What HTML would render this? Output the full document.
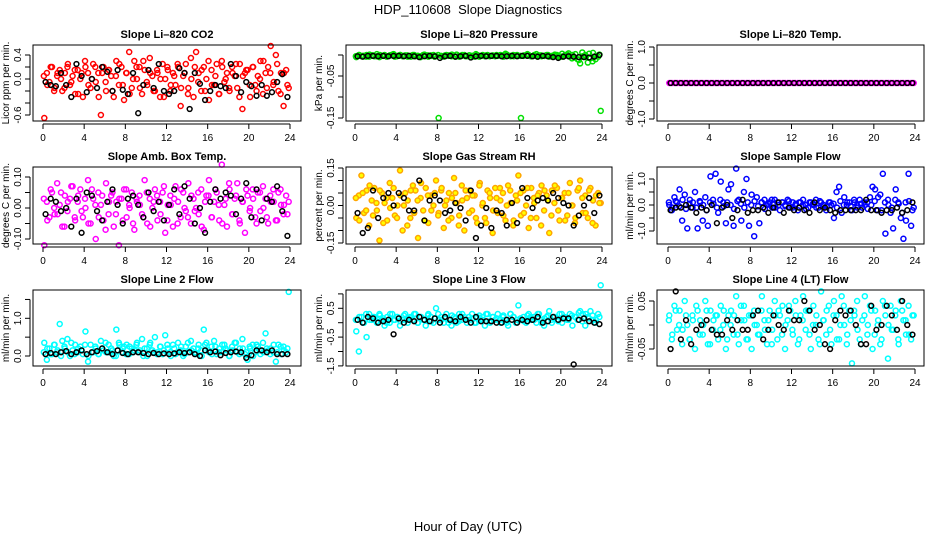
<!DOCTYPE html>
<html><head><meta charset="utf-8">
<style>
html,body{margin:0;padding:0;background:#fff;}
svg{display:block;font-family:"Liberation Sans",sans-serif;}
</style></head>
<body>
<svg id="chart" width="936" height="540" viewBox="0 0 936 540" xmlns="http://www.w3.org/2000/svg">
<rect x="0" y="0" width="936" height="540" fill="#fff"/>
<text x="468" y="14" text-anchor="middle" font-size="13" style="white-space:pre">HDP_110608  Slope Diagnostics</text>
<text x="468" y="531" text-anchor="middle" font-size="13">Hour of Day (UTC)</text>
</svg>
<script>
const xTicks = [0,4,8,12,16,20,24];
const co2Vals = [-0.65,0.1,-0.05,0.2,-0.15,0.05,0.15,-0.2,0.1,0.2,-0.1,0.05,-0.25,0.15,0.0,-0.3,0.2,0.1,-0.15,0.25,-0.05,0.1,-0.6,0.2,
-0.2,0.15,0.05,-0.3,0.3,-0.1,0.2,-0.35,0.1,0.45,-0.15,0.3,0.0,0.2,-0.25,0.15,-0.1,0.35,0.05,-0.2,0.1,-0.3,0.25,0.0,
0.15,-0.2,0.1,-0.1,0.2,-0.45,0.05,0.25,-0.15,0.35,-0.3,0.45,0.1,-0.2,0.2,0.0,-0.35,0.15,-0.1,0.25,-0.25,0.3,-0.05,0.1,
-0.2,0.2,0.05,-0.15,0.25,-0.5,0.1,0.15,-0.3,0.2,-0.1,0.05,0.3,-0.25,0.1,0.2,0.55,-0.1,0.4,-0.2,0.1,-0.45,0.15,-0.15];
const co2Vals2 = [0.05,-0.1,0.2,-0.2,0.1,0.0,-0.15,0.25,-0.05,0.15,-0.25,0.1,0.3,-0.1,0.0,0.2,-0.3,0.1,-0.05,0.15,-0.2,0.05,0.25,-0.1,
0.1,-0.25,0.0,0.2,-0.15,0.3,-0.05,0.1,-0.2,0.15,0.0,-0.3,0.2,-0.1,0.05,0.25,-0.15,0.1,-0.25,0.0,0.2,-0.05,0.15,-0.2,
0.3,-0.1,0.05,-0.25,0.2,0.0,-0.15,0.1,0.25,-0.3,0.05,0.15,-0.1,0.2,-0.2,0.0,0.3,-0.15,0.1,-0.05,0.25,-0.25,0.1,-0.1];
const co2Black = [-0.05,-0.1,-0.12,0.1,-0.1,-0.3,0.25,0.05,-0.22,0.0,-0.15,0.2,0.12,-0.2,0.15,-0.18,-0.25,0.1,-0.57,-0.1,0.15,-0.15,0.25,-0.2,-0.25,-0.2,0.18,0.1,-0.5,0.1,-0.08,-0.35,-0.2,-0.1,-0.12,-0.15,0.25,0.05,-0.22,-0.05,-0.12,-0.28,-0.1,-0.28,-0.22,-0.05,0.08,-0.3];
const presVals = [-0.005,0.0,-0.003,-0.002,0.0,-0.004,-0.001,-0.003,0.002,-0.005,-0.002,0.0,-0.003,-0.001,0.001,-0.004,-0.002,0.0,-0.003,-0.001,-0.004,-0.002,0.0,-0.003,
-0.002,-0.005,0.0,-0.002,-0.004,-0.001,0.0,-0.003,-0.15,-0.002,-0.004,0.0,-0.001,-0.003,-0.002,0.001,-0.004,-0.002,0.0,-0.003,-0.001,-0.002,-0.004,0.0,
-0.002,-0.001,-0.003,0.0,-0.002,-0.001,-0.003,-0.002,0.0,-0.001,0.003,-0.002,-0.003,0.0,-0.001,-0.002,-0.15,-0.002,-0.001,0.0,-0.003,-0.002,0.002,-0.001,
-0.003,-0.002,0.0,-0.004,-0.002,-0.001,0.0,-0.005,0.003,-0.002,0.001,-0.004,0.0,-0.006,-0.01,-0.02,-0.003,0.0,-0.018,-0.008,0.005,-0.01,-0.004,-0.133];
const presVals2 = [-0.003,0.0,-0.002,-0.004,0.001,-0.001,-0.003,0.0,-0.002,-0.004,-0.001,0.002,-0.003,0.0,-0.002,-0.001,-0.004,0.0,-0.002,-0.003,0.001,-0.001,-0.002,-0.004,
0.0,-0.003,-0.001,-0.002,0.001,-0.004,-0.002,0.0,-0.003,-0.001,-0.002,0.002,-0.004,0.0,-0.001,-0.003,-0.002,0.0,-0.001,-0.004,0.001,-0.002,-0.003,0.0,
-0.002,-0.001,0.002,-0.003,0.0,-0.004,-0.001,-0.002,0.0,-0.003,0.001,-0.002,-0.004,0.0,0.004,-0.008,0.002,-0.012,0.006,-0.004,0.003,-0.015,-0.002,0.001];
const presBlack = [-0.003,-0.004,-0.002,-0.002,-0.003,-0.002,-0.003,-0.002,-0.002,-0.003,-0.002,-0.003,-0.005,-0.003,-0.002,-0.003,-0.007,-0.003,-0.002,-0.004,-0.003,-0.002,-0.006,-0.003,-0.002,-0.003,-0.002,-0.002,-0.003,-0.003,-0.002,-0.003,-0.002,-0.002,-0.003,-0.004,-0.002,-0.003,-0.005,-0.007,-0.004,-0.003,-0.004,-0.005,-0.005,-0.006,-0.004,0.0];
const tempVals = [0,0,0,0,0,0,0,0,0,0,0,0,0,0,0,0,0,0,0,0,0,0,0,0,0,0,0,0,0,0,0,0,0,0,0,0,0,0,0,0,0,0,0,0,0,0,0,0,
0,0,0,0,0,0,0,0,0,0,0,0,0,0,0,0,0,0,0,0,0,0,0,0,0,0,0,0,0,0,0,0,0,0,0,0,0,0,0,0,0,0,0,0,0,0,0,0];
const tempVals2 = [];
const tempBlack = [0,0,0,0,0,0,0,0,0,0,0,0,0,0,0,0,0,0,0,0,0,0,0,0,0,0,0,0,0,0,0,0,0,0,0,0,0,0,0,0,0,0,0,0,0,0,0,0];
const ambVals = [-0.12,0.02,-0.03,0.05,-0.02,0.08,0.01,-0.06,0.04,-0.01,0.03,0.07,-0.04,0.02,0.06,-0.03,0.0,0.09,-0.05,0.03,-0.1,0.05,0.01,-0.04,
0.08,-0.02,0.04,-0.06,0.02,-0.12,0.03,0.06,-0.03,0.01,0.05,-0.07,0.02,0.04,-0.02,0.09,-0.05,0.03,0.0,0.06,-0.04,0.02,0.05,-0.08,
0.01,0.04,-0.06,0.07,0.02,-0.03,0.05,-0.01,0.08,-0.05,0.03,0.0,-0.02,0.06,-0.07,0.04,0.09,-0.03,0.02,0.05,-0.04,0.14,0.01,-0.06,
0.06,-0.02,0.03,0.08,-0.05,0.02,-0.08,0.04,0.0,0.06,-0.03,0.05,-0.01,0.07,0.03,-0.05,0.02,0.06,-0.04,0.05,0.01,-0.02,0.04,0.02];
const ambVals2 = [0.03,-0.04,0.06,0.0,-0.02,0.05,-0.06,0.02,0.07,-0.03,0.04,-0.01,0.03,-0.05,0.06,0.01,-0.03,0.04,-0.07,0.02,0.05,-0.02,0.03,-0.04,
0.06,0.0,-0.05,0.03,0.01,-0.03,0.05,-0.06,0.02,0.04,-0.02,0.07,-0.04,0.01,0.03,-0.05,0.06,0.0,-0.03,0.04,-0.01,0.05,-0.06,0.02,
0.04,-0.03,0.06,0.01,-0.05,0.03,0.08,-0.02,0.04,-0.04,0.02,0.06,-0.01,0.03,-0.05,0.05,0.0,-0.03,0.04,0.02,-0.04,0.06,0.01,-0.02];
const ambBlack = [-0.02,0.03,0.02,-0.01,0.0,-0.06,0.03,-0.08,0.05,0.04,-0.01,-0.04,0.02,0.06,0.01,-0.05,0.03,0.04,0.01,-0.03,0.05,-0.01,0.02,-0.04,0.01,0.06,-0.02,0.07,0.03,-0.05,0.0,-0.08,0.02,0.06,0.03,0.05,0.04,-0.02,0.03,0.08,-0.03,0.06,-0.04,0.03,0.02,0.07,-0.01,-0.09];
const rhVals = [-0.05,0.04,0.12,-0.03,0.06,-0.08,0.02,0.07,-0.02,-0.14,0.05,0.01,-0.06,0.09,0.03,-0.04,0.0,0.14,-0.1,0.05,0.02,-0.05,0.08,0.06,
-0.13,0.03,-0.02,0.07,-0.07,0.04,0.0,0.1,-0.03,0.06,-0.09,0.02,0.05,-0.05,0.11,0.01,-0.04,0.08,-0.1,0.03,0.06,-0.02,0.04,-0.07,
0.09,0.0,-0.05,0.06,0.03,-0.11,0.07,-0.03,0.02,0.05,-0.06,0.08,0.01,-0.08,0.04,0.12,-0.04,0.06,0.0,-0.09,0.07,0.03,-0.05,0.05,
0.08,-0.02,0.04,-0.11,0.06,0.01,0.07,-0.06,0.03,0.05,-0.04,0.09,0.0,-0.07,0.06,0.1,-0.03,0.04,-0.05,0.07,0.02,-0.08,0.05,0.01];
const rhVals2 = [0.03,-0.06,0.05,-0.02,0.08,-0.04,0.01,0.06,-0.07,0.03,-0.01,0.07,-0.05,0.04,0.0,-0.08,0.06,-0.03,0.02,0.09,-0.06,0.04,-0.02,0.05,
-0.04,0.07,0.0,-0.06,0.03,0.05,-0.08,0.02,0.06,-0.03,0.04,-0.05,0.08,0.01,-0.07,0.05,-0.02,0.03,0.07,-0.04,0.0,0.06,-0.06,0.02,
0.05,-0.03,0.07,-0.05,0.01,0.04,-0.08,0.06,0.02,-0.04,0.08,-0.02,0.03,-0.06,0.05,0.0,-0.05,0.07,0.03,-0.03,0.06,-0.07,0.04,0.01];
const rhBlack = [-0.03,-0.11,-0.09,0.06,-0.05,0.03,0.05,0.0,0.05,0.03,-0.02,-0.02,0.1,-0.06,0.02,0.04,0.02,-0.03,-0.02,0.01,-0.01,-0.06,0.06,-0.13,-0.08,-0.01,-0.09,-0.02,-0.03,-0.08,0.01,-0.07,0.07,0.03,-0.01,0.02,0.03,0.02,0.05,0.03,0.01,0.0,-0.08,-0.04,0.0,0.03,-0.03,0.04];
const flowVals = [0.0,-0.2,0.3,0.1,0.6,-0.6,0.4,-0.9,0.2,-0.1,0.5,-0.9,0.1,-0.6,0.3,-0.8,1.1,0.2,1.2,-0.3,0.9,0.1,-0.7,0.6,
0.8,-0.8,1.4,0.2,-0.6,0.5,1.0,-0.8,0.4,-1.2,0.3,-0.7,0.1,0.2,0.0,0.1,-0.1,0.2,0.1,-0.2,0.1,0.0,0.2,-0.1,
0.1,0.0,-0.2,0.1,0.2,0.0,-0.1,0.1,0.0,0.2,-0.1,0.1,0.0,-0.2,0.1,0.0,-0.5,0.5,0.7,-0.3,0.3,0.0,0.1,-0.2,
0.1,0.0,0.2,-0.1,0.0,0.1,0.3,0.7,0.6,-0.2,0.4,1.2,-1.1,0.2,-0.3,-0.9,0.6,0.1,-0.5,-1.3,-0.6,1.2,-0.8,-0.1];
const flowVals2 = [0.1,-0.1,0.15,-0.05,0.2,-0.15,0.05,0.1,-0.1,0.15,0.0,-0.2,0.1,0.05,-0.1,0.2,-0.05,0.1,0.0,-0.15,0.15,0.05,-0.1,0.1,
0.0,0.15,-0.05,0.1,-0.15,0.05,0.2,-0.1,0.0,0.1,-0.05,0.15,-0.1,0.05,0.1,0.0,-0.15,0.1,0.05,-0.1,0.15,0.0,-0.05,0.1,
0.05,-0.1,0.15,0.0,0.1,-0.05,0.2,-0.1,0.05,0.1,-0.15,0.0,0.15,0.3,-0.2,0.1,0.0,-0.1,0.2,0.05,-0.3,0.1,0.15,-0.2];
const flowBlack = [-0.2,-0.1,-0.1,0.0,-0.1,-0.3,-0.1,-0.2,0.0,-0.7,-0.1,0.0,-0.5,-0.2,0.2,-0.3,-0.2,-0.2,-0.1,-0.3,-0.1,0.1,-0.3,-0.1,-0.2,-0.1,-0.2,-0.3,0.1,-0.2,-0.1,-0.2,-0.3,-0.2,-0.2,-0.2,-0.2,-0.2,0.2,-0.2,-0.2,-0.3,-0.2,-0.2,-0.1,-0.3,-0.2,0.1];
const line2Vals = [0.35,-0.1,0.2,0.05,0.3,0.1,0.85,0.4,0.2,0.45,0.0,0.15,0.3,0.1,0.25,0.05,0.65,-0.15,0.3,0.1,0.2,0.05,0.4,0.15,
0.1,0.3,0.2,0.0,0.7,0.35,0.1,0.25,0.3,0.05,0.2,0.15,0.35,0.1,0.45,0.2,0.0,0.3,0.15,0.5,0.1,0.25,0.05,0.55,
0.2,0.1,0.3,0.05,0.35,0.15,0.0,0.25,0.1,0.4,0.2,0.05,0.3,0.15,0.7,0.35,0.1,0.25,0.4,0.05,0.2,0.1,0.3,0.15,
0.0,0.25,0.35,0.1,0.2,0.45,0.05,-0.1,0.2,0.3,0.1,0.25,0.05,0.35,0.6,0.15,0.2,0.1,-0.15,0.3,0.05,0.25,0.1,1.7];
const line2Vals2 = [0.1,0.2,0.05,0.3,0.15,0.0,0.25,0.1,0.35,0.05,0.2,0.15,0.3,0.0,0.1,0.25,0.05,0.2,0.35,0.1,0.15,0.0,0.3,0.2,
0.05,0.25,0.1,0.3,0.15,0.0,0.2,0.35,0.1,0.05,0.25,0.15,0.3,0.0,0.2,0.1,0.25,0.05,0.35,0.15,0.1,0.2,0.0,0.3,
0.15,0.05,0.25,0.1,0.3,0.2,0.0,0.15,0.35,0.05,0.2,0.1,0.25,0.0,0.3,0.15,0.1,0.2,0.05,0.3,0.1,0.25,0.15,0.2];
const line2Black = [0.05,0.08,0.05,0.1,0.13,0.05,0.1,0.15,0.05,0.1,0.13,0.2,0.1,0.05,0.15,0.08,0.05,0.1,0.1,0.08,0.05,0.08,0.05,0.07,0.05,0.07,0.1,0.08,0.1,0.05,0.0,0.15,0.1,0.12,0.02,0.08,0.1,0.12,0.1,-0.05,0.02,0.15,0.15,0.1,0.15,0.05,0.05,0.05];
const line3Vals = [-0.3,-1.0,0.2,0.0,-0.5,0.3,0.1,0.2,0.0,0.3,0.1,-0.1,0.2,0.0,0.3,0.1,0.2,-0.1,0.1,0.3,0.0,0.2,0.1,0.3,
0.0,0.2,0.1,-0.1,0.3,0.2,0.0,0.5,0.1,0.2,0.0,0.3,0.1,-0.1,0.2,0.0,0.3,0.1,0.2,0.0,0.1,0.3,0.0,0.2,
0.1,0.2,-0.1,0.3,0.0,0.2,0.1,0.3,0.0,0.2,0.1,-0.1,0.3,0.2,0.0,0.6,0.1,0.2,0.0,0.3,0.1,0.2,0.0,0.3,
0.1,-0.1,0.2,0.4,0.0,0.2,0.1,0.3,0.0,0.2,0.1,0.3,-0.1,0.2,0.1,0.4,0.3,-0.1,0.2,0.4,0.1,0.0,0.3,1.3];
const line3Vals2 = [0.1,0.2,0.0,0.3,0.1,0.2,0.05,0.25,0.15,0.0,0.3,0.1,0.2,0.05,0.25,0.1,0.15,0.3,0.0,0.2,0.1,0.25,0.05,0.15,
0.3,0.1,0.2,0.0,0.25,0.15,0.05,0.3,0.1,0.2,0.15,0.0,0.25,0.1,0.3,0.05,0.2,0.15,0.1,0.25,0.0,0.3,0.2,0.1,
0.15,0.05,0.25,0.2,0.1,0.3,0.0,0.15,0.25,0.1,0.2,0.05,0.3,0.15,0.1,0.25,0.2,0.35,0.05,0.3,0.15,0.25,0.1,0.2];
const line3Black = [0.1,0.0,0.2,0.15,0.0,0.05,0.1,-0.4,0.15,0.0,0.1,0.05,0.2,0.1,0.05,0.15,0.0,0.2,0.1,0.05,0.2,0.1,0.0,0.2,0.05,0.05,0.05,0.0,0.0,0.1,0.1,0.0,0.1,0.05,0.1,0.2,0.0,0.05,0.2,0.1,0.15,0.15,-1.45,0.1,0.15,0.05,0.0,-0.05];
const line4Vals = [0.02,-0.03,0.04,-0.01,0.03,-0.04,0.05,0.0,-0.03,0.02,-0.05,0.03,0.01,-0.02,0.05,-0.04,0.03,-0.01,0.02,-0.03,0.04,0.0,-0.05,0.02,
0.03,-0.02,0.06,-0.04,0.01,0.04,-0.03,0.02,-0.05,0.03,0.0,-0.02,0.06,0.01,-0.04,0.03,-0.01,0.05,-0.03,0.02,0.04,-0.05,0.01,0.03,
-0.02,0.05,-0.04,0.02,0.06,-0.01,0.03,-0.05,0.04,0.0,-0.03,0.07,0.01,-0.02,0.04,-0.04,0.05,0.02,-0.03,0.06,0.0,-0.04,0.03,-0.08,
0.02,0.05,-0.03,0.01,0.06,-0.02,0.04,-0.05,0.03,0.0,-0.04,0.05,0.02,-0.07,0.04,-0.01,0.03,-0.03,0.05,0.01,-0.02,0.04,-0.03,0.02];
const line4Vals2 = [0.01,-0.02,0.03,0.0,-0.01,0.02,-0.03,0.01,0.04,-0.02,0.0,0.03,-0.04,0.01,0.02,-0.01,0.03,-0.03,0.0,0.02,-0.02,0.04,0.01,-0.03,
0.02,0.0,-0.02,0.03,-0.01,0.01,-0.04,0.02,0.03,-0.02,0.0,0.04,-0.01,0.02,-0.03,0.01,0.03,-0.02,0.0,0.02,-0.04,0.01,0.03,-0.01,
0.02,-0.03,0.0,0.04,-0.02,0.01,0.03,-0.01,-0.04,0.02,0.0,0.03,-0.02,0.01,-0.03,0.04,0.0,-0.01,0.02,-0.04,0.03,0.01,-0.02,0.02];
const line4Black = [-0.05,0.07,-0.03,0.01,-0.04,-0.01,0.0,0.01,-0.01,-0.02,-0.02,0.01,-0.01,0.01,-0.01,-0.01,0.02,0.03,-0.03,-0.01,0.02,0.0,-0.01,0.03,0.01,0.01,0.05,0.03,-0.01,0.0,-0.04,-0.05,0.01,0.03,0.02,0.03,0.0,-0.04,-0.04,0.04,-0.01,0.0,0.04,0.02,-0.01,0.05,0.0,-0.02];
const co2Ticks=[-0.6,-0.4,-0.2,0,0.2,0.4], co2Labels=["-0.6","","","0.0","","0.4"];
const presTicks=[-0.15,-0.10,-0.05,0], presLabels=["-0.15","","-0.05",""];
const tempTicks=[-1,-0.5,0,0.5,1], tempLabels=["-1.0","","0.0","","1.0"];
const ambTicks=[-0.10,-0.05,0,0.05,0.10], ambLabels=["-0.10","","0.00","","0.10"];
const rhTicks=[-0.15,-0.10,-0.05,0,0.05,0.10,0.15], rhLabels=["-0.15","","","0.00","","","0.15"];
const flowTicks=[-1,-0.5,0,0.5,1], flowLabels=["-1.0","","0.0","","1.0"];
const line2Ticks=[0,0.5,1,1.5], line2Labels=["0.0","","1.0",""];
const line3Ticks=[-1.5,-1,-0.5,0,0.5,1], line3Labels=["-1.5","","-0.5","","0.5",""];
const line4Ticks=[-0.05,0,0.05], line4Labels=["-0.05","","0.05"];

const svg=document.getElementById('chart');
const NS='http://www.w3.org/2000/svg';
function mk(tag,attrs,parent){const e=document.createElementNS(NS,tag);for(const k in attrs)e.setAttribute(k,attrs[k]);(parent||svg).appendChild(e);return e;}
const cols=[{l:33,r:301,x0:43},{l:346,r:612,x0:355},{l:657,r:924,x0:668}];
const rows=[{t:45,b:121},{t:167,b:244},{t:290,b:366}];
const panels=[
 {key:'co2',title:'Slope Li\u2013820 CO2',yl:'Licor ppm per min.',c:0,r:0,zero:79,ppu:60,vals:co2Vals,vals2:co2Vals2,blk:co2Black,col:'#ff0000',ticks:co2Ticks,labels:co2Labels},
 {key:'pressure',title:'Slope Li\u2013820 Pressure',yl:'kPa per min.',c:1,r:0,zero:55,ppu:420,vals:presVals,vals2:presVals2,blk:presBlack,col:'#00e000',ticks:presTicks,labels:presLabels},
 {key:'temp',title:'Slope Li\u2013820 Temp.',yl:'degrees C per min.',c:2,r:0,zero:83,ppu:36,vals:tempVals,vals2:tempVals2,blk:tempBlack,col:'#ff00ff',ticks:tempTicks,labels:tempLabels},
 {key:'amb-temp',title:'Slope Amb. Box Temp.',yl:'degrees C per min.',c:0,r:1,zero:208,ppu:310,vals:ambVals,vals2:ambVals2,blk:ambBlack,col:'#ff00ff',ticks:ambTicks,labels:ambLabels},
 {key:'rh',title:'Slope Gas Stream RH',yl:'percent per min.',c:1,r:1,zero:205.5,ppu:250,vals:rhVals,vals2:rhVals2,blk:rhBlack,col:'#ffa500',ticks:rhTicks,labels:rhLabels},
 {key:'sample-flow',title:'Slope Sample Flow',yl:'ml/min per min.',c:2,r:1,zero:205,ppu:26,vals:flowVals,vals2:flowVals2,blk:flowBlack,col:'#0000ff',ticks:flowTicks,labels:flowLabels},
 {key:'line2',title:'Slope Line 2 Flow',yl:'ml/min per min.',c:0,r:2,zero:356,ppu:37.7,vals:line2Vals,vals2:line2Vals2,blk:line2Black,col:'#00ffff',ticks:line2Ticks,labels:line2Labels},
 {key:'line3',title:'Slope Line 3 Flow',yl:'ml/min per min.',c:1,r:2,zero:322.7,ppu:28.8,vals:line3Vals,vals2:line3Vals2,blk:line3Black,col:'#00ffff',ticks:line3Ticks,labels:line3Labels},
 {key:'line4',title:'Slope Line 4 (LT) Flow',yl:'ml/min per min.',c:2,r:2,zero:325,ppu:480,vals:line4Vals,vals2:line4Vals2,blk:line4Black,col:'#00ffff',ticks:line4Ticks,labels:line4Labels}
];
panels.forEach(p=>{
 const C=cols[p.c],R=rows[p.r];
 const xs=h=>C.x0+h*247/24;
 const ys=v=>p.zero-v*p.ppu;
 const g=mk('g',{});
 
 
 const t=mk('text',{x:(C.l+C.r)/2,y:R.t-7,'text-anchor':'middle','font-size':11,'font-weight':'bold'},g);
 t.textContent=p.title;
 
 
 const sg=mk('g',{fill:p.key==='rh'?'#ffff00':'none',stroke:p.col,'stroke-width':1.5},g);
 
 
 [[p.vals,0.5],[p.vals2,0.25]].forEach(([arr,off])=>{
  arr.forEach((v,i)=>{
   const h=(i+off)*24/arr.length;
   const c=mk('circle',{cx:xs(h),cy:ys(v),r:2.5},sg);
   
   
  });
 });
 const bg=mk('g',{fill:'none',stroke:'#000','stroke-width':1.5},g);
 
 
 p.blk.forEach((v,i)=>{
  const h=(i+0.5)*24/p.blk.length;
  const c=mk('circle',{cx:xs(h),cy:ys(v),r:2.4},bg);
  
  
 });
 const box=mk('rect',{x:C.l,y:R.t,width:C.r-C.l,height:R.b-R.t,fill:'none',stroke:'#000','stroke-width':1},g);
 
 
 const xa=mk('g',{},g);
 
 
 mk('line',{x1:xs(xTicks[0]),x2:xs(xTicks[xTicks.length-1]),y1:R.b+3,y2:R.b+3,stroke:'#000'},xa);
 xTicks.forEach(h=>{
  mk('line',{x1:xs(h),x2:xs(h),y1:R.b+3,y2:R.b+8,stroke:'#000'},xa);
  const tl=mk('text',{x:xs(h),y:R.b+20,'text-anchor':'middle','font-size':10},xa);
  tl.textContent=h;
  
  
 });
 const ya=mk('g',{},g);
 
 
 const yv=p.ticks.map(ys);
 mk('line',{x1:C.l-3,x2:C.l-3,y1:Math.min(...yv),y2:Math.max(...yv),stroke:'#000'},ya);
 p.ticks.forEach((v,i)=>{
  const y=ys(v);
  mk('line',{x1:C.l-8,x2:C.l-3,y1:y,y2:y,stroke:'#000'},ya);
  if(p.labels[i]){
   const tl=mk('text',{x:C.l-12,y:y,'text-anchor':'middle','font-size':10,transform:`rotate(-90 ${C.l-12} ${y})`},ya);
   tl.textContent=p.labels[i];
   
   
  }
 });
 const cy=(R.t+R.b)/2, lx=C.l-24;
 const yt=mk('text',{x:lx,y:cy,'text-anchor':'middle','font-size':10,transform:`rotate(-90 ${lx} ${cy})`},g);
 yt.textContent=p.yl;
 
 
});
</script>
</body></html>
